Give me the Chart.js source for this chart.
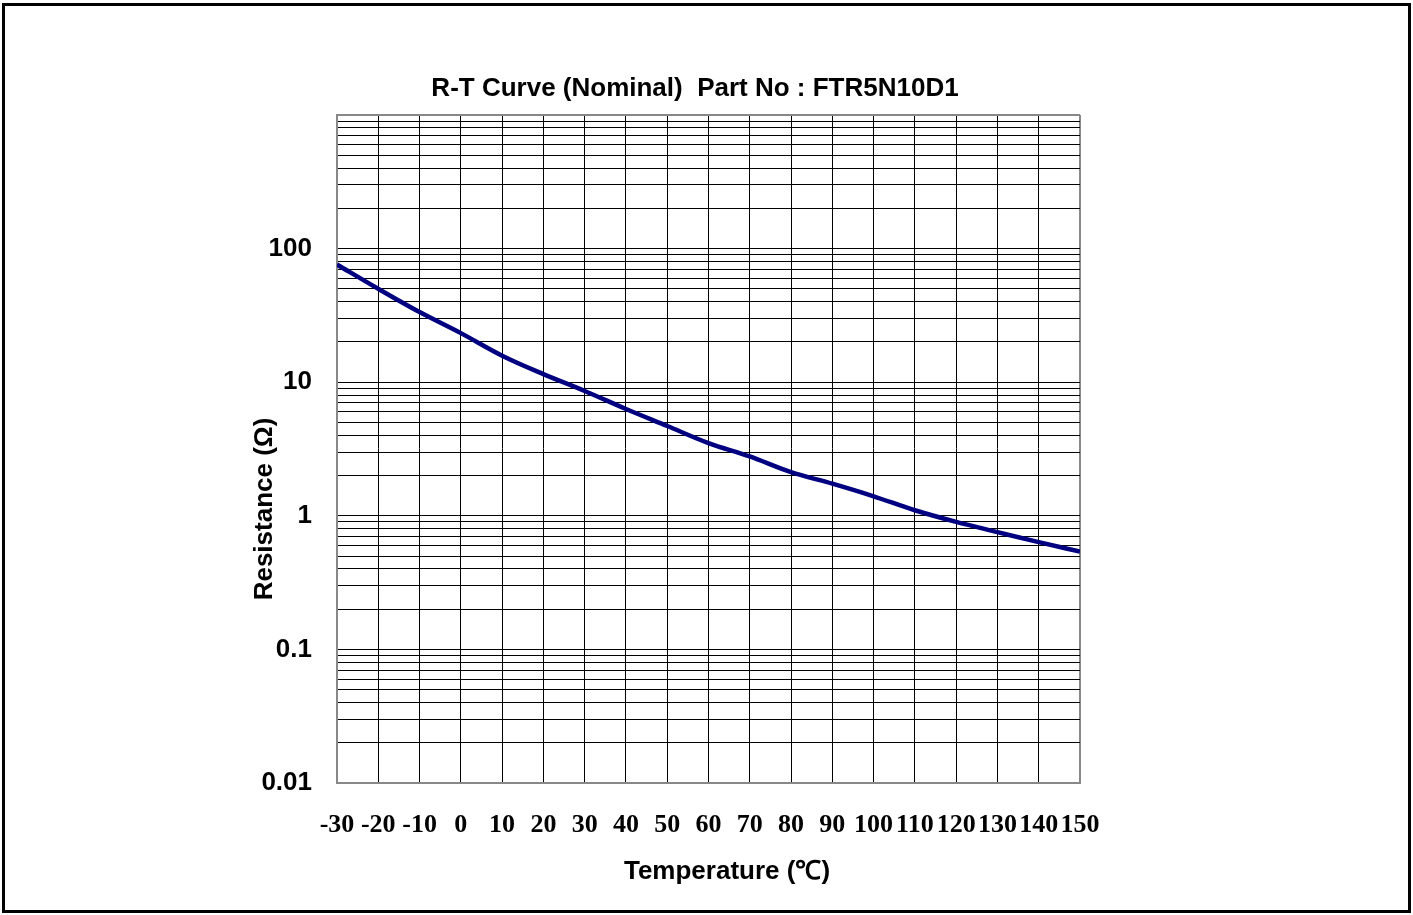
<!DOCTYPE html>
<html>
<head>
<meta charset="utf-8">
<script src="https://cdn.jsdelivr.net/npm/chart.js@4.4.1/dist/chart.umd.min.js"></script>
<style>
  html, body { margin: 0; padding: 0; background: #fff; }
  #wrap { position: relative; width: 1413px; height: 915px; overflow: hidden; }
  #frame { position: absolute; left: 2px; top: 3px; width: 1409px; height: 910px; box-sizing: border-box; border: 3px solid #000; }
  canvas { position: absolute; left: 0; top: 0; }
</style>
</head>
<body>
<div id="wrap">
  <canvas id="myChart" width="1413" height="915"></canvas>
  <div id="frame"></div>
</div>
<script>
'use strict';
// readings
const temps = [-30, -20, -10, 0, 10, 20, 30, 40, 50, 60, 70, 80, 90, 100, 110, 120, 130, 140, 150];
const resistance = [76, 50, 33.5, 23.3, 15.8, 11.5, 8.6, 6.3, 4.7, 3.5, 2.78, 2.12, 1.74, 1.4, 1.1, 0.9, 0.755, 0.635, 0.54];

const yTickLabels = ['0.01', '0.1', '1', '10', '100'];
const yDecades = [0.01, 0.1, 1, 10, 100];
const chartTitle = 'R-T Curve (Nominal)  Part No : FTR5N10D1';
const xTitle = 'Temperature (\u2103)';
const yTitle = 'Resistance (\u03A9)';

// gridline values: 1..9 in every decade, plus the top 1000
let yGrid = [];
for (let i = 0; i < yDecades.length; i++) {
  for (let k = 1; k < 10; k++) {
    yGrid.push(+(k * yDecades[i]).toPrecision(3));
  }
}
yGrid.push(1000);

const textPlugin = {
  id: 'texts',
  afterDraw(chart) {
    const ctx = chart.ctx;
    ctx.save();
    ctx.fillStyle = '#000';
    ctx.textAlign = 'center';
    ctx.textBaseline = 'middle';
    ctx.font = 'bold 26px "Liberation Sans", Arial, sans-serif';
    ctx.fillText(chartTitle, 695, 89);
    ctx.fillText(xTitle, 727, 872);
    ctx.translate(265, 509);
    ctx.rotate(-Math.PI / 2);
    ctx.fillText(yTitle, 0, 0);
    ctx.restore();
  }
};

const points = temps.map((t, i) => ({ x: t, y: resistance[i] }));

const ctx = document.getElementById('myChart').getContext('2d');
const chart = new Chart(ctx, {
  type: 'line',
  data: {
    datasets: [{
      label: 'R-T',
      data: points,
      borderColor: '#000080',
      borderWidth: 4.5,
      pointRadius: 0,
      cubicInterpolationMode: 'monotone',
      fill: false
    }]
  },
  options: {
    responsive: false,
    animation: false,
    layout: { padding: { left: 0, top: 115, right: 333, bottom: 0 } },
    plugins: {
      legend: { display: false },
      title: { display: false },
      tooltip: { enabled: false }
    },
    scales: {
      x: {
        type: 'linear',
        min: -30,
        max: 150,
        afterFit(scale) { scale.height = 132; },
        border: { color: '#888', width: 2 },
        grid: {
          drawTicks: false,
          color: c => (c.tick && (c.tick.value === -30 || c.tick.value === 150)) ? '#888' : '#000',
          lineWidth: c => (c.tick && (c.tick.value === -30 || c.tick.value === 150)) ? 2 : 1
        },
        ticks: {
          stepSize: 10,
          autoSkip: false,
          maxRotation: 0,
          padding: 27,
          color: '#000',
          font: { family: '"Liberation Serif", "Times New Roman", serif', size: 26, weight: 'bold' }
        }
      },
      y: {
        type: 'logarithmic',
        min: 0.01,
        max: 1000,
        afterFit(scale) { scale.width = 337; },
        afterBuildTicks(scale) {
          scale.ticks = yGrid.map(v => ({ value: v }));
        },
        border: { color: '#888', width: 2 },
        grid: {
          drawTicks: false,
          color: c => (c.tick && (c.tick.value === 1000 || c.tick.value === 0.01)) ? '#888' : '#000',
          lineWidth: c => (c.tick && (c.tick.value === 1000 || c.tick.value === 0.01)) ? 2 : 1
        },
        ticks: {
          autoSkip: false,
          padding: 25,
          color: '#000',
          font: { family: '"Liberation Sans", Arial, sans-serif', size: 26, weight: 'bold' },
          callback: function(value) {
            const idx = yDecades.findIndex(d => Math.abs(d - value) < d * 1e-6);
            return idx >= 0 ? yTickLabels[idx] : '';
          }
        }
      }
    }
  },
  plugins: [textPlugin]
});
</script>
</body>
</html>
